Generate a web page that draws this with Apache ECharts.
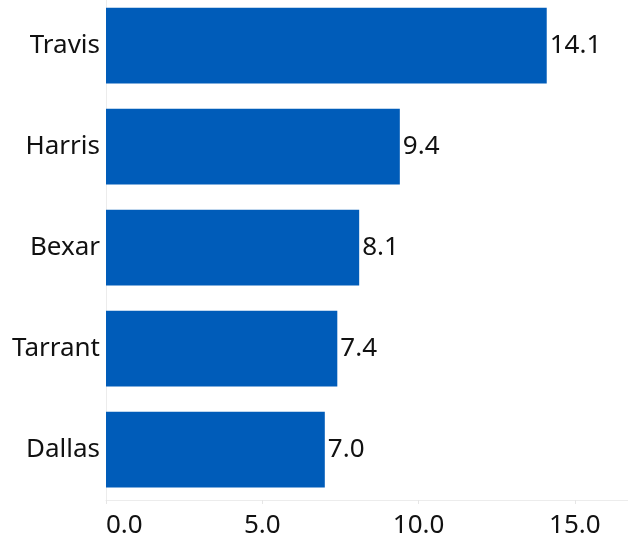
<!DOCTYPE html>
<html><head><meta charset="utf-8">
<script src="https://cdn.jsdelivr.net/npm/echarts@6/dist/echarts.min.js"></script>
<style>html,body{margin:0;padding:0;background:#fff}#c{width:628px;height:539px}</style>
</head><body><div id="c"></div>
<script>
const categories = ["Travis", "Harris", "Bexar", "Tarrant", "Dallas"];
const values = [14.1, 9.4, 8.1, 7.4, 7.0];
const tickValues = [0, 5, 10, 15];

const chart = echarts.init(document.getElementById('c'), null, {renderer: 'canvas'});
const font = "Noto Sans";
chart.setOption({
  animation: false,
  grid: {left: 106, right: 0, top: -5, bottom: 39, containLabel: false, outerBoundsMode: 'none'},
  xAxis: {
    type: 'value', min: 0, max: 16.7, interval: 5,
    axisLine: {show: true, lineStyle: {color: '#ececec', width: 1}},
    axisTick: {show: true, length: 4, lineStyle: {color: '#e6e6e6'}},
    splitLine: {show: false},
    axisLabel: {
      fontFamily: font, fontSize: 26, color: '#111', margin: 13,
      showMaxLabel: false, alignMinLabel: 'left',
      formatter: v => tickValues.includes(v) ? v.toFixed(1) : ''
    }
  },
  yAxis: {
    type: 'category', data: categories.slice().reverse(), inverse: false,
    axisLine: {show: true, lineStyle: {color: '#ececec', width: 1}},
    axisTick: {show: false},
    axisLabel: {fontFamily: font, fontSize: 26, color: '#111', margin: 6, padding: [4, 0, 0, 0]}
  },
  series: [{
    type: 'bar', data: values.slice().reverse(), barCategoryGap: '25%',
    itemStyle: {color: '#005CB9'},
    label: {show: true, position: 'right', distance: 3, fontFamily: font, fontSize: 26, color: '#111',
      padding: [4, 0, 0, 0], formatter: p => p.value.toFixed(1)}
  }]
});
</script></body></html>
